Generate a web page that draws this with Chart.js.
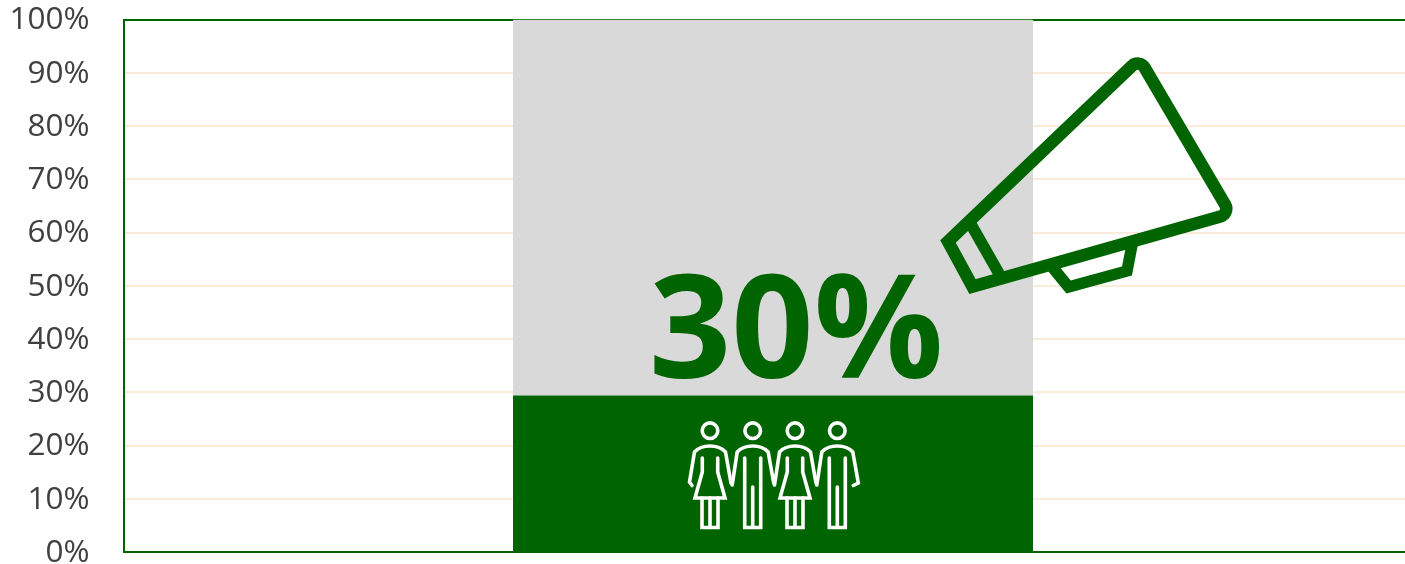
<!DOCTYPE html>
<html><head><meta charset="utf-8">
<style>html,body{margin:0;padding:0;background:#fff;overflow:hidden;width:1405px;height:564px}
#w{position:relative;width:1422px;height:564px}</style>
<script src="https://cdn.jsdelivr.net/npm/chart.js@4"></script></head>
<body><div id="w"><canvas id="c" width="1422" height="564"></canvas></div>
<script>
const categories = [""];
const filledValues = [29.4];
const remainderValues = [70.6];
const bigLabel = "30%";
const GREEN = "#006400", GRAY = "#D9D9D9", GRID = "#FBEBDB", TEXT = "#404040";

function poly(ctx, pts, close) {
  ctx.beginPath();
  pts.forEach((p, i) => i ? ctx.lineTo(p[0], p[1]) : ctx.moveTo(p[0], p[1]));
  if (close) ctx.closePath();
  ctx.stroke();
}
function person(ctx, cx, woman, leftHook, rightHook) {
  const P = (a) => a.map(p => [cx + p[0], p[1]]);
  ctx.beginPath(); ctx.arc(cx, 430.7, 7.8, 0, Math.PI * 2); ctx.stroke();
  ctx.beginPath();
  if (leftHook) { ctx.moveTo(cx - 18, 485.5); ctx.lineTo(cx - 20.5, 482); } else ctx.moveTo(cx - 20.5, 485);
  ctx.lineTo(cx - 15.5, 452);
  ctx.quadraticCurveTo(cx - 10, 446, cx, 446);
  ctx.quadraticCurveTo(cx + 10, 446, cx + 15.5, 452);
  ctx.lineTo(cx + 21, 483);
  if (rightHook) ctx.lineTo(cx + 16, 485.5);
  ctx.stroke();
  if (woman) {
    poly(ctx, P([[-7.7,458],[-7.7,472],[-15,498],[15,498],[7.7,472],[7.7,458]]));
    poly(ctx, P([[-8,498],[-8,527.5],[8,527.5],[8,498]]));
    poly(ctx, P([[0,498],[0,527.5]]));
  } else {
    poly(ctx, P([[-8,458],[-8,527.5],[8,527.5],[8,458]]));
    poly(ctx, P([[0,487],[0,527.5]]));
  }
}
const decor = {
  id: "decor",
  afterDraw(chart) {
    const ctx = chart.ctx;
    ctx.save();
    ctx.fillStyle = GREEN;
    ctx.font = "bold 144px 'Open Sans'";
    ctx.textAlign = "left"; ctx.textBaseline = "alphabetic";
    ctx.fillText(bigLabel, 649, 378);

    ctx.strokeStyle = "#fff"; ctx.lineWidth = 3.6; ctx.lineJoin = "miter"; ctx.lineCap = "round";
    person(ctx, 710, true, true, false);
    person(ctx, 752.7, false, false, false);
    person(ctx, 795, true, false, false);
    person(ctx, 837.3, false, false, true);

    ctx.strokeStyle = GREEN; ctx.lineWidth = 12.5; ctx.lineCap = "butt";
    ctx.beginPath();
    ctx.moveTo(948, 241.5);
    ctx.arcTo(1139.4, 58.8, 1230.4, 213.6, 8);
    ctx.arcTo(1230.4, 213.6, 972.5, 286.6, 8);
    ctx.lineTo(972.5, 286.6);
    ctx.closePath();
    ctx.stroke();
    ctx.lineWidth = 11.5;
    poly(ctx, [[970,222.6],[1002,278.8]]);
    poly(ctx, [[1049,263],[1068.5,287],[1127,271],[1132,245]]);
    ctx.restore();
  }
};
new Chart(document.getElementById("c"), {
  type: "bar",
  plugins: [decor],
  data: { labels: categories, datasets: [
    { data: filledValues, backgroundColor: GREEN, borderWidth: 0, barPercentage: 0.4006, categoryPercentage: 1 },
    { data: remainderValues, backgroundColor: GRAY, borderWidth: 0, barPercentage: 0.4006, categoryPercentage: 1 }
  ]},
  options: {
    responsive: false, animation: false,
    layout: { padding: { top: 19.5, bottom: 12, left: 0, right: 0 } },
    plugins: { legend: { display: false }, tooltip: { enabled: false } },
    scales: {
      x: { stacked: true, grid: { display: false, drawTicks: false },
           border: { display: true, color: GREEN, width: 2 },
           ticks: { display: false } },
      y: { stacked: true, min: 0, max: 100,
           afterFit(s) {
             s.width = 124; s.paddingTop = 0; s.paddingBottom = 0;
             if (!s._nudged) {
               s._nudged = true;
               const draw = s.drawLabels;
               s.drawLabels = function (a) {
                 this.ctx.save(); this.ctx.translate(0, 1);
                 draw.call(this, a);
                 this.ctx.restore();
               };
             }
           },
           border: { display: true, color: GREEN, width: 2 },
           grid: { drawTicks: false, lineWidth: 2,
                   color: c => (c.tick && (c.tick.value === 100 || c.tick.value === 0)) ? GREEN : GRID },
           ticks: { stepSize: 10, padding: 34.5, color: TEXT, font: { family: "'Open Sans'", size: 31.5 },
                    callback: v => v + "%" } }
    }
  }
});
</script></body></html>
